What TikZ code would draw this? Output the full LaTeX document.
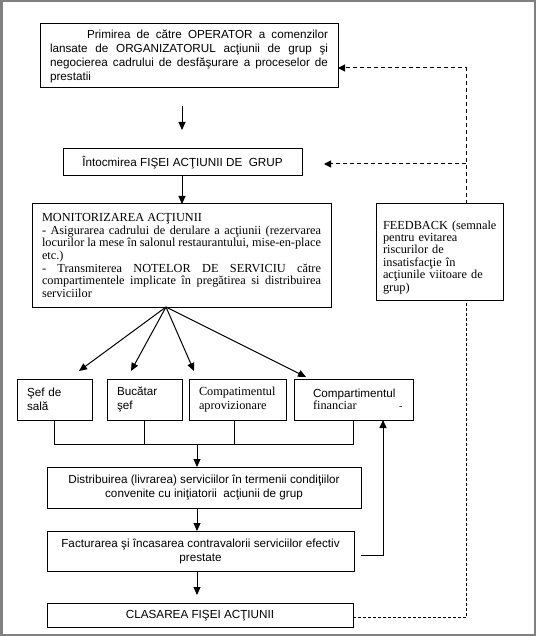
\documentclass[tikz,border=0pt]{standalone}
\usepackage{fontspec}
\setmainfont{Liberation Serif}
\newfontfamily\arialf{Liberation Sans}
\usetikzlibrary{arrows.meta}
\begin{document}
\begin{tikzpicture}[x=1pt,y=-1pt,
  box/.style={draw, line width=1pt, inner sep=0pt, outer sep=0pt},
  arr/.style={-{Triangle[length=8pt,width=7pt]}, line width=1pt},
  darr/.style={dash pattern=on 4pt off 3pt, line width=1pt, -{Triangle[length=7pt,width=7pt]}},
  dln/.style={dash pattern=on 3pt off 2pt, line width=0.7pt},
  bline/.style={line width=0.7pt},
  sans/.style={font=\arialf\fontsize{11.7}{14}\selectfont},
  serif/.style={font=\fontsize{12.3}{12.6}\selectfont},
  fserif/.style={font=\fontsize{12.3}{12.4}\selectfont},
]
\useasboundingbox (0,0) rectangle (536,636);
\draw[gray, line width=2.5pt] (1.25,1.25) rectangle (534.75,634.75);

\node[box, sans, minimum width=298, minimum height=64, text width=278, align=justify] (box1) at (189,56)
  {\hspace*{37pt}Primirea de către OPERATOR a comenzilor\linebreak lansate de ORGANIZATORUL acţiunii de grup şi\linebreak negocierea cadrului de desfăşurare a proceselor de\linebreak prestatii};

\node[box, sans, minimum width=239, minimum height=27] (box2) at (182.5,162.5)
  {Întocmirea FIŞEI ACŢIUNII DE\ \ GRUP};

\node[box, serif, minimum width=299, minimum height=103, text width=279, align=justify] (box3) at (181.5,255.5)
  {\emergencystretch=20pt MONITORIZAREA ACŢIUNII\\
   - Asigurarea cadrului de derulare a acţiunii (rezervarea\linebreak locurilor la mese în salonul restaurantului, mise-en-place\linebreak etc.)\\
   - Transmiterea NOTELOR DE SERVICIU către\linebreak compartimentele implicate în pregătirea si distribuirea\linebreak serviciilor};

\node[box, fserif, minimum width=127, minimum height=96, text width=113, align=left] (fb) at (439.5,252)
  {\rule{0pt}{19pt}\mbox{FEEDBACK (semnale}\\ pentru evitarea\\ riscurilor de\\ insatisfacţie în\\ \mbox{acţiunile viitoare de}\\ grup)};

\node[box, sans, minimum width=75, minimum height=41, text width=55, align=left] (sef) at (54.5,399.5)
  {Şef de\\ sală};
\node[box, sans, minimum width=75, minimum height=41, text width=55, align=left] (buc) at (144.5,399.5)
  {Bucătar\\ şef};
\node[box, fserif, minimum width=97, minimum height=41, text width=77, align=left] (comp) at (237.5,399.5)
  {Compatimentul\\[1.5pt] aprovizionare};
\node[box, minimum width=119, minimum height=41, text width=81, align=left] (fin) at (353.5,399.5)
  {{\arialf\fontsize{11.7}{14}\selectfont Compartimentul}\\ {\fontsize{12.3}{14}\selectfont financiar}\hfill\makebox[0pt][l]{\hspace{5pt}-}};

\node[box, sans, minimum width=314, minimum height=41, align=center] (dist) at (204,487.5)
  {Distribuirea (livrarea) serviciilor în termenii condiţiilor\\ convenite cu iniţiatorii\ \ acţiunii de grup};
\node[box, sans, minimum width=307, minimum height=40, align=center] (fact) at (200.5,551)
  {Facturarea şi încasarea contravalorii serviciilor efectiv\\ prestate};
\node[box, sans, minimum width=306, minimum height=24] (clas) at (200,615.5)
  {CLASAREA FIŞEI ACŢIUNII};

% arrows main flow
\coordinate (a1s) at (182,106);
\coordinate (a1e) at (182,130);
\draw[arr] (a1s) -- (a1e);
\draw[arr] ([xshift=-0.5pt]box2.south) -- ([xshift=-0.5pt]box2.south |- box3.north);

% fan
\coordinate (fan) at ([xshift=-15.5pt]box3.south);
\coordinate (t1) at (79,371);
\coordinate (t2) at (131,371);
\coordinate (t3) at (194,371);
\coordinate (t4) at (306,377);
\draw[arr] (fan) -- (t1);
\draw[arr] (fan) -- (t2);
\draw[arr] (fan) -- (t3);
\draw[arr] (fan) -- (t4);

% bracket
\coordinate (bj) at (197,444);
\draw[bline] (sef.south) -- (sef.south |- bj) -- (fin.south |- bj) -- (fin.south);
\draw[bline] (buc.south) -- (buc.south |- bj);
\draw[bline] ([xshift=-3.5pt]comp.south) -- ([xshift=-3.5pt]comp.south |- bj);
\draw[arr] (bj) -- (bj |- dist.north);
\draw[arr] (bj |- dist.south) -- (bj |- fact.north);
\coordinate (a5e) at (197,595);
\draw[arr] (bj |- fact.south) -- (a5e);

% facturare -> financiar
\coordinate (fs) at ([xshift=7pt,yshift=-4pt]fact.east);
\coordinate (fc) at (383,555);
\draw[arr] (fs) -- (fc) -- (fc |- fin.south);

% feedback dashed
\coordinate (vx) at (466,0);
\draw[dln] ([yshift=-2pt]clas.east) -| (vx |- fb.south);
\draw[darr] (vx |- fb.north) |- ([yshift=-12pt]box1.east);
\coordinate (d2) at (466,164);
\coordinate (d2e) at (324,164);
\draw[darr] (d2) -- (d2e);
\end{tikzpicture}
\end{document}
